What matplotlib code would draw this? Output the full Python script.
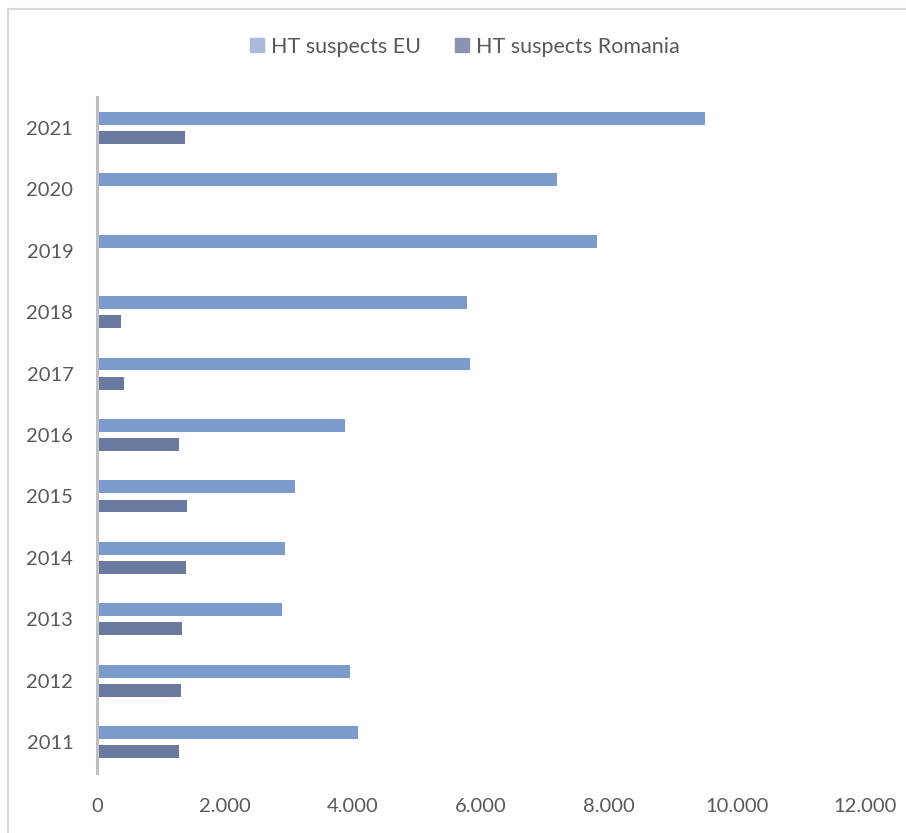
import matplotlib
matplotlib.use("Agg")
import matplotlib.pyplot as plt
from matplotlib.patches import Rectangle
from matplotlib.ticker import FuncFormatter
import numpy as np

years = ["2011", "2012", "2013", "2014", "2015", "2016",
         "2017", "2018", "2019", "2020", "2021"]
suspects_eu = [4080, 3950, 2890, 2940, 3090, 3880, 5830, 5780, 7810, 7190, 9500]
suspects_ro = [1280, 1310, 1330, 1390, 1410, 1280, 420, 375, 0, 0, 1370]

plt.rcParams['font.family'] = ['Lato', 'DejaVu Sans']

fig = plt.figure(figsize=(9.06, 8.33), dpi=100)
ax = fig.add_axes([0.107, 0.072, 0.848, 0.8116])

y = np.arange(len(years))
h = 0.21
off = 0.155
ax.barh(y + off, suspects_eu, height=h, color='#7B9BCC', label='HT suspects EU')
ax.barh(y - off, suspects_ro, height=h, color='#6A7A9F', label='HT suspects Romania')

ax.set_xlim(0, 12000)
ax.set_ylim(-0.5, len(years) - 0.5)
ax.set_yticks(y)
ax.set_yticklabels(years)
ax.set_xticks(range(0, 12001, 2000))
ax.xaxis.set_major_formatter(FuncFormatter(lambda v, p: f"{int(v):,}".replace(",", ".")))
ax.tick_params(axis='both', length=0, labelsize=14.5, labelcolor='#595959')
ax.tick_params(axis='x', pad=18)
ax.tick_params(axis='y', pad=17)
for t in ax.get_yticklabels():
    t.set_va('center_baseline')

for s in ['top', 'right', 'bottom']:
    ax.spines[s].set_visible(False)
ax.spines['left'].set_color('#BFBFBF')
ax.spines['left'].set_linewidth(2.2)

handles, labels = ax.get_legend_handles_labels()
leg = fig.legend(handles, labels, loc='center', bbox_to_anchor=(0.513, 0.944), ncol=2,
                 frameon=False, fontsize=15.5, handlelength=0.65, handleheight=0.65,
                 handletextpad=0.3, columnspacing=1.6)
for t in leg.get_texts():
    t.set_color('#595959')
leg.legend_handles[0].set_color('#A9BADD')
leg.legend_handles[1].set_color('#8C93AE')

# light outer frame
fig.patches.append(Rectangle((8 / 906, -0.1), 1.2, 1 - 9 / 833 + 0.1, transform=fig.transFigure,
                             fill=False, edgecolor='#D9D9D9', linewidth=1.5))

fig.savefig("out.png", dpi=100)
